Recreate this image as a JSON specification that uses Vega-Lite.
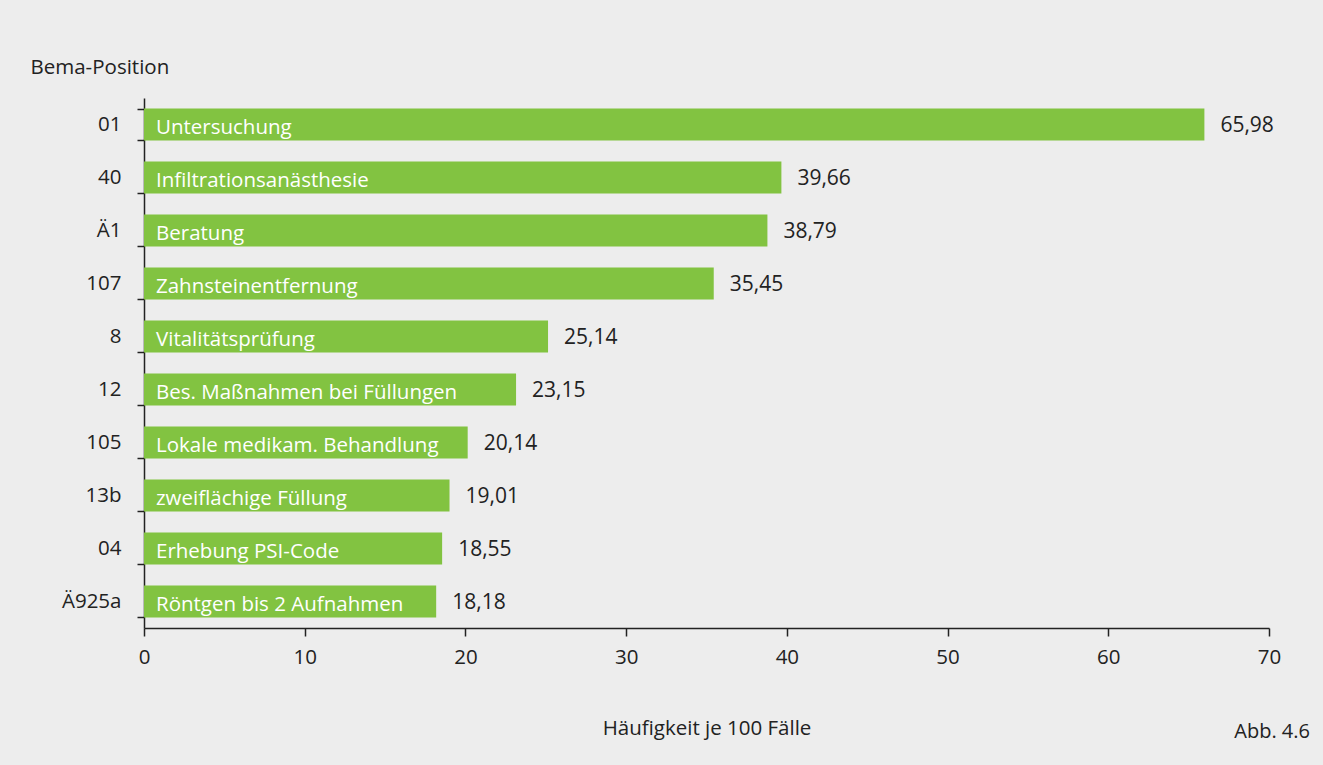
{
  "$schema": "https://vega.github.io/schema/vega-lite/v6.json",
  "autosize": {"type": "none"},
  "width": 1125,
  "height": 530,
  "padding": {"left": 144, "top": 98, "right": 54, "bottom": 137},
  "background": "#ededed",
  "title": {"text": "Abb. 4.6", "orient": "bottom", "anchor": "end", "frame": "group", "dx": 41, "offset": -17, "fontSize": 20, "font": "Open Sans", "fontWeight": "normal", "color": "#222222"},
  "data": {"values": [
    {"pos": "01", "leistung": "Untersuchung", "wert": 65.98},
    {"pos": "40", "leistung": "Infiltrationsanästhesie", "wert": 39.66},
    {"pos": "Ä1", "leistung": "Beratung", "wert": 38.79},
    {"pos": "107", "leistung": "Zahnsteinentfernung", "wert": 35.45},
    {"pos": "8", "leistung": "Vitalitätsprüfung", "wert": 25.14},
    {"pos": "12", "leistung": "Bes. Maßnahmen bei Füllungen", "wert": 23.15},
    {"pos": "105", "leistung": "Lokale medikam. Behandlung", "wert": 20.14},
    {"pos": "13b", "leistung": "zweiflächige Füllung", "wert": 19.01},
    {"pos": "04", "leistung": "Erhebung PSI-Code", "wert": 18.55},
    {"pos": "Ä925a", "leistung": "Röntgen bis 2 Aufnahmen", "wert": 18.18}
  ]},
  "encoding": {
    "y": {"field": "pos", "type": "nominal", "sort": null,
      "scale": {"paddingInner": 0.4, "paddingOuter": 0.2},
      "axis": {"title": "Bema-Position", "titleAngle": 0, "titleAlign": "left", "titleBaseline": "middle", "titleX": -114, "titleY": -31,
        "titleFontWeight": "normal", "titleFontSize": 20.5, "tickBand": "extent", "tickSize": 7, "labelPadding": 16, "labelFontSize": 20.5}}
  },
  "layer": [
    {"mark": {"type": "bar", "color": "#82c341"},
      "encoding": {"x": {"field": "wert", "type": "quantitative",
        "scale": {"domain": [0, 70], "nice": false},
        "axis": {"values": [0, 10, 20, 30, 40, 50, 60, 70], "title": "Häufigkeit je 100 Fälle", "titleFontWeight": "normal", "titleFontSize": 20.5,
          "titleBaseline": "middle", "titleY": 100, "grid": false, "tickSize": 8, "labelPadding": 11, "labelFontSize": 20.5, "labelFlush": false}}}},
    {"mark": {"type": "text", "align": "left", "baseline": "middle", "dx": 12, "dy": 3, "color": "white", "fontSize": 20.5, "font": "Open Sans"},
      "encoding": {"x": {"datum": 0, "type": "quantitative"}, "text": {"field": "leistung"}}},
    {"mark": {"type": "text", "align": "left", "baseline": "middle", "dx": 16, "dy": 1, "color": "#222222", "fontSize": 21, "font": "Open Sans"},
      "encoding": {"x": {"field": "wert", "type": "quantitative"}, "text": {"field": "wert", "format": ".2f"}}}
  ],
  "config": {
    "locale": {"number": {"decimal": ",", "thousands": ".", "grouping": [3], "currency": ["", " €"]}},
    "view": {"stroke": null},
    "font": "Open Sans",
    "axis": {"domainColor": "#222222", "domainWidth": 1.5, "tickColor": "#222222", "tickWidth": 1.5, "labelColor": "#222222", "titleColor": "#222222", "labelFont": "Open Sans", "titleFont": "Open Sans"}
  }
}
